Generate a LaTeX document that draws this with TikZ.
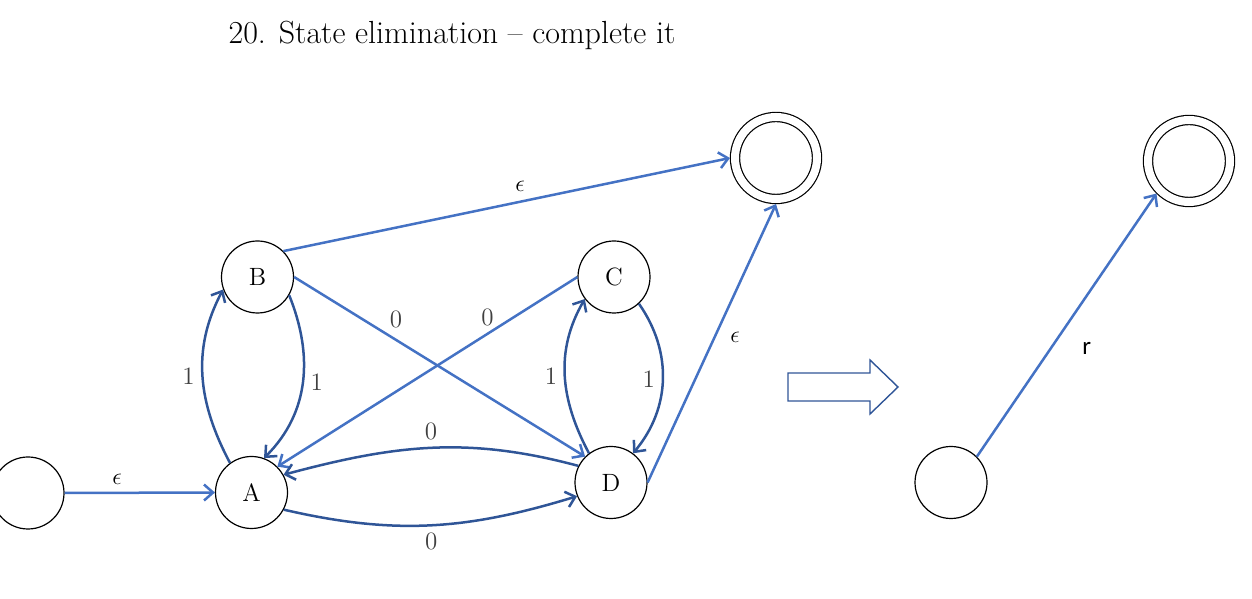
\documentclass[tikz,border=0pt]{standalone}
\usepackage{amsmath}
\usepackage{fontspec}
\usepackage{tikz}
\usetikzlibrary{arrows.meta}
\newfontfamily\calibri{Carlito}
\definecolor{lblue}{HTML}{4472C4}
\definecolor{dblue}{HTML}{2F5597}
\definecolor{lgray}{HTML}{404040}

\begin{document}
\begin{tikzpicture}[x=1pt, y=1pt,
    >={Straight Barb[length=4.5pt, width=8pt]},
    statenode/.style={circle, draw, line width=0.6pt, minimum size=36pt, inner sep=0pt, font=\fontsize{12.5}{14}\selectfont},
    finalnode/.style={circle, draw, double, double distance=4pt, line width=0.6pt, minimum size=41pt, outer sep=2.5pt},
    light/.style={->, lblue, line width=1.25pt},
    dark/.style={->, dblue, line width=1.25pt},
    lbl/.style={lgray, font=\fontsize{12.5}{14}\selectfont},
    eps/.style={black, font=\fontsize{12.5}{14}\selectfont}]
    \useasboundingbox (0,0) rectangle (626,299.5);

    % 标题
    \node (title) at (226,282) {\fontsize{16}{19}\selectfont 20. State elimination -- complete it};

    % 左边的自动机
    \node[statenode] (S) at (14,53) {};
    \node[statenode] (A) at (125.75,53.25) {A};
    \node[statenode] (B) at (128.75,161) {B};
    \node[statenode] (C) at (307,161) {C};
    \node[statenode] (D) at (305.5,58.25) {D};
    \node[finalnode] (F1) at (388,220.5) {};

    % epsilon 边
    \draw[light] (S.east) -- node[eps, pos=0.35, above] {$\epsilon$} (A.west);
    \draw[light] (B.north east) -- node[eps, pos=0.53, above=1pt] {$\epsilon$} (F1.west);
    \draw[light] (D.east) -- node[eps, pos=0.52, right=4pt] {$\epsilon$} (F1.south);

    % 交叉的 0 边
    \draw[light] (B.east) -- node[lbl, pos=0.35, above=2pt] {0} (D.north west);
    \draw[light] (C.west) -- node[lbl, pos=0.3, above=0pt] {0} (A.north east);

    % 弯曲的边
    \draw[dark] (A.126) to[out=118, in=242] node[lbl, midway, left] {1} (B.200);
    \draw[dark] (B.-30) to[out=-68, in=45] node[lbl, midway, right] {1} (A.70);
    \draw[dark] (D.127) to[out=118, in=240] node[lbl, midway, left] {1} (C.217);
    \draw[dark] (C.-47) to[out=-55, in=50] node[lbl, midway, left] {1} (D.53);
    \draw[dark] (D.153) to[out=165, in=15] node[lbl, midway, above] {0} (A.29);
    \draw[dark] (A.-28) to[out=-13, in=197] node[lbl, midway, below] {0} (D.202);

    % 空心箭头
    \draw[dblue, line width=0.7pt] (394,113) -- (435,113) -- (435,119.5) -- (449,106)
        -- (435,92.5) -- (435,99) -- (394,99) -- cycle;

    % 右边的结果
    \node[statenode] (S2) at (475.5,58.25) {};
    \node[finalnode] (F2) at (594.5,219) {};
    \draw[light] (S2.north east) -- node[eps, pos=0.41, right=12pt] {\calibri r} (F2.south west);
\end{tikzpicture}
\end{document}
